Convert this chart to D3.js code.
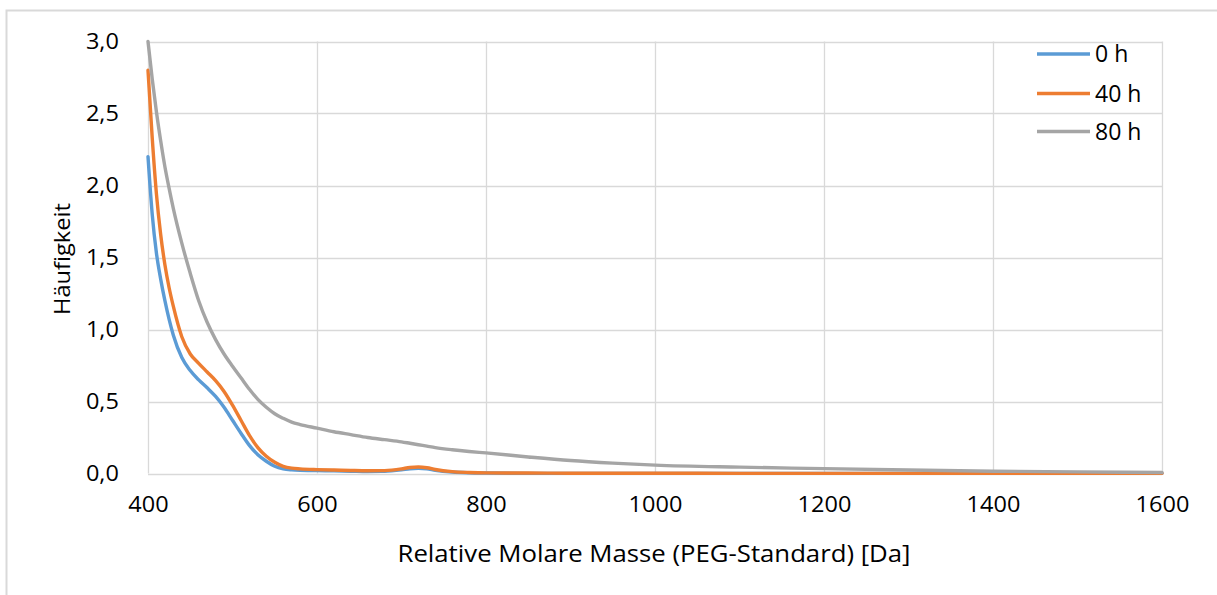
<!DOCTYPE html>
<html><head><meta charset="utf-8">
<script src="https://cdn.jsdelivr.net/npm/d3@7"></script>
<style>
html,body{margin:0;padding:0;background:#fff;}
svg{display:block;}
text{font-family:"Open Sans",sans-serif;fill:#000;}
</style></head>
<body>
<svg id="chart" width="1217" height="595"></svg>
<script>
const mass = [400,405,410,415,420,425,430,440,450,460,470,480,490,500,510,520,530,540,550,560,570,580,600,620,640,660,680,700,710,720,730,740,760,780,800,850,900,950,1000,1100,1200,1300,1400,1500,1600];
const h0  = [2.2,1.8,1.53,1.35,1.2,1.07,0.96,0.805,0.715,0.65,0.595,0.535,0.46,0.37,0.28,0.195,0.13,0.085,0.05,0.032,0.025,0.022,0.02,0.018,0.016,0.014,0.015,0.025,0.033,0.036,0.032,0.022,0.01,0.005,0.003,0.001,0.001,0.001,0.001,0.001,0.001,0.001,0.001,0.001,0.001];
const h40 = [2.8,2.33,1.94,1.66,1.45,1.29,1.16,0.95,0.83,0.765,0.705,0.645,0.57,0.475,0.37,0.265,0.18,0.12,0.078,0.05,0.037,0.032,0.027,0.024,0.021,0.019,0.02,0.032,0.042,0.045,0.04,0.028,0.013,0.007,0.004,0.003,0.002,0.002,0.002,0.001,0.001,0.001,0.001,0.001,0.001];
const h80 = [3.0,2.74,2.51,2.31,2.13,1.98,1.84,1.6,1.39,1.2,1.05,0.93,0.83,0.745,0.665,0.585,0.515,0.46,0.415,0.383,0.357,0.34,0.315,0.29,0.27,0.25,0.235,0.22,0.21,0.2,0.19,0.18,0.165,0.153,0.143,0.115,0.09,0.072,0.058,0.044,0.034,0.024,0.016,0.011,0.007];
const seriesNames = ["0 h","40 h","80 h"];
const seriesColors = ["#5B9BD5","#ED7D31","#A5A5A5"];
const xTicks = [400,600,800,1000,1200,1400,1600];
const yTicks = [0,0.5,1,1.5,2,2.5,3];
const xTitle = "Relative Molare Masse (PEG-Standard) [Da]";
const yTitle = "Häufigkeit";

const svg = d3.select("#chart");
// outer chart border (only top and left visible)
svg.append("rect").attr("x",6.5).attr("y",10.5).attr("width",1300).attr("height",700)
  .attr("fill","none").attr("stroke","#d9d9d9").attr("stroke-width",2);

const x = d3.scaleLinear().domain([400,1600]).range([148,1162]);
const y = d3.scaleLinear().domain([0,3]).range([473.5,41.5]);

// gridlines
const grid = svg.append("g");
grid.selectAll("line.h").data(yTicks).join("line")
  .attr("x1",x(400)).attr("x2",x(1600)).attr("y1",d=>Math.round(y(d))+0.5).attr("y2",d=>Math.round(y(d))+0.5)
  .attr("stroke","#d9d9d9").attr("stroke-width",1.3);
grid.selectAll("line.v").data(xTicks).join("line")
  .attr("y1",y(0)).attr("y2",y(3)).attr("x1",d=>Math.round(x(d))+0.5).attr("x2",d=>Math.round(x(d))+0.5)
  .attr("stroke","#d9d9d9").attr("stroke-width",1.3);

// axes
const fmt = d3.format(".1f");
const yAxis = svg.append("g").attr("transform",`translate(${x(400)},0)`)
  .call(d3.axisLeft(y).tickValues(yTicks).tickSize(0).tickPadding(26).tickFormat(d=>fmt(d).replace(".",",")));
yAxis.select(".domain").remove();
yAxis.selectAll("text").attr("font-size",21).attr("font-family","Open Sans").attr("fill","#000")
  .attr("transform","scale(1.12,1)");

const xAxis = svg.append("g").attr("transform",`translate(0,${y(0)})`)
  .call(d3.axisBottom(x).tickValues(xTicks).tickSize(0).tickPadding(24).tickFormat(d3.format("d")));
xAxis.select(".domain").remove();
xAxis.selectAll("text").attr("font-size",21).attr("font-family","Open Sans").attr("fill","#000")
  .attr("transform","scale(1.12,1)");

// axis titles
svg.append("text").attr("x",654).attr("y",562).attr("text-anchor","middle")
  .attr("font-size",23).attr("textLength",513).attr("lengthAdjust","spacingAndGlyphs").text(xTitle);
svg.append("text").attr("transform","translate(70,259) rotate(-90)").attr("text-anchor","middle")
  .attr("font-size",21).attr("textLength",112).attr("lengthAdjust","spacingAndGlyphs").text(yTitle);

// lines
const series = [h0,h40,h80];
const line = d3.line().x((d,i)=>x(mass[i])).y(d=>y(d)).curve(d3.curveMonotoneX);
svg.append("g").selectAll("path").data(series).join("path")
  .attr("d",d=>line(d)).attr("fill","none")
  .attr("stroke",(d,i)=>seriesColors[i]).attr("stroke-width",3.4)
  .attr("stroke-linejoin","round").attr("stroke-linecap","round");

// legend
const leg = svg.append("g");
const legY = [54,93.5,131.5];
seriesNames.forEach((n,i)=>{
  leg.append("line").attr("x1",1037).attr("x2",1090).attr("y1",legY[i]).attr("y2",legY[i])
    .attr("stroke",seriesColors[i]).attr("stroke-width",3.4);
  leg.append("text").attr("x",1095).attr("y",legY[i]+8).attr("font-size",23).text(n);
});
</script>
</body></html>
